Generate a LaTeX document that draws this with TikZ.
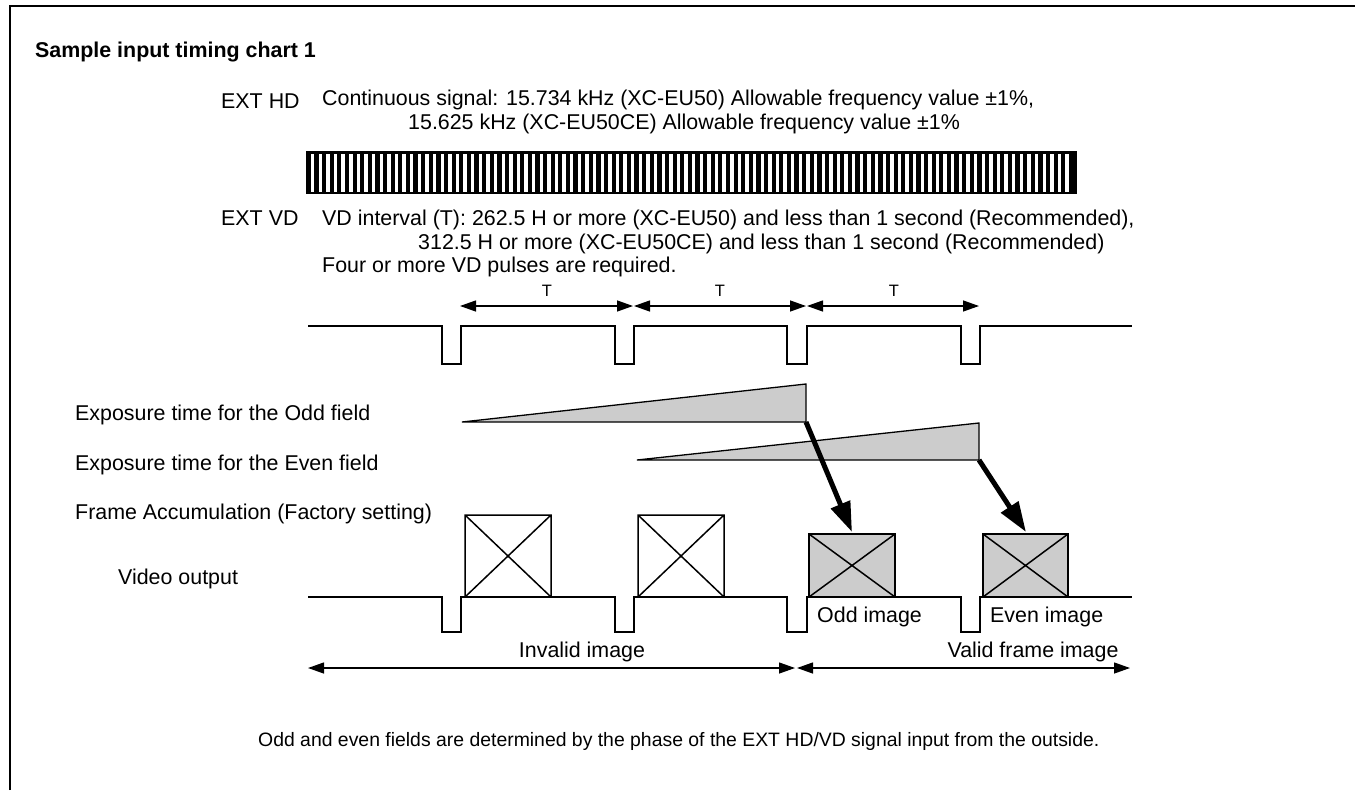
\documentclass[tikz,border=0pt]{standalone}
\usepackage{fontspec}
\setmainfont{Liberation Sans}
\usetikzlibrary{arrows.meta}
\definecolor{wedgegray}{gray}{0.8}
\begin{document}
\begin{tikzpicture}[x=1pt,y=-1pt,
  lbl/.style={anchor=base west, inner sep=0pt, font=\fontsize{21.4}{24}\selectfont},
  clbl/.style={anchor=base, inner sep=0pt, font=\fontsize{21.4}{24}\selectfont},
  tlbl/.style={anchor=center, inner sep=0pt, font=\fontsize{16.5}{18}\selectfont},
  sig/.style={line width=1.5pt, line join=miter},
  tarrow/.style={line width=1.3pt, {Triangle[length=16pt,width=11pt]}-{Triangle[length=16pt,width=11pt]}},
  bigarrow/.style={line width=5pt, -{Triangle[length=30pt,width=20pt]}},
  wedge/.style={draw, line width=1.3pt, fill=wedgegray, line join=miter},
  imgbox/.style={draw, line width=1.5pt},
  grayimg/.style={imgbox, fill=wedgegray}]
\useasboundingbox (0,0) rectangle (1355,790);
% frame
\draw[line width=1.5pt] (10,790) -- (10,6) -- (1355,6);
% title
\node[lbl, font=\bfseries\fontsize{21.4}{24}\selectfont] (title) at (35,57) {Sample input timing chart 1};
% EXT HD
\node[lbl] (exthd) at (221,108) {EXT HD};
\node[lbl] (hd1) at (322,105) {Continuous signal: 15.734 kHz (XC-EU50) Allowable frequency value ±1\%,};
\node[lbl] (hd2) at (408,129) {15.625 kHz (XC-EU50CE) Allowable frequency value ±1\%};
% HD bar
\fill[black] (306,151) rectangle (1077,194);
\foreach \i in {0,...,99} {
  \fill[white] ({311+\i*7.62},153.5) rectangle ({314.4+\i*7.62},191.5);
}
% EXT VD
\node[lbl] (extvd) at (221,225) {EXT VD};
\node[lbl] (vd1) at (322,225) {VD interval (T): 262.5 H or more (XC-EU50) and less than 1 second (Recommended),};
\node[lbl] (vd2) at (418,249) {312.5 H or more (XC-EU50CE) and less than 1 second (Recommended)};
\node[lbl] (vd3) at (322,272) {Four or more VD pulses are required.};
% T arrows
\coordinate (ta) at (460,306);
\coordinate (tb) at (633,306);
\coordinate (tc) at (634,306);
\coordinate (td) at (806,306);
\coordinate (te) at (807,306);
\coordinate (tf) at (979,306);
\draw[tarrow] (ta) -- (tb);
\draw[tarrow] (tc) -- (td);
\draw[tarrow] (te) -- (tf);
\node[tlbl] (t1) at (547,291) {T};
\node[tlbl] (t2) at (720,291) {T};
\node[tlbl] (t3) at (894,291) {T};
% VD signal
\draw[sig] (308,326) -| (442,364) -| (461,326) -| (615,364) -| (634,326) -| (787,364) -| (807,326) -| (961,364) -| (980,326) -- (1132,326);
% left labels
\node[lbl] (lodd) at (75,420) {Exposure time for the Odd field};
\node[lbl] (leven) at (75,470) {Exposure time for the Even field};
\node[lbl] (lframe) at (75,519) {Frame Accumulation (Factory setting)};
\node[lbl] (lvideo) at (118,584) {Video output};
% wedges
\coordinate (oddcorner) at (806,422);
\coordinate (evencorner) at (979,460);
\draw[wedge] (462,422) -- (806,384) -- (oddcorner) -- cycle;
\draw[wedge] (637,460) -- (979,423) -- (evencorner) -- cycle;
% image boxes
\draw[imgbox] (465,515) rectangle (551,597) (465,515) -- (551,597) (551,515) -- (465,597);
\draw[imgbox] (638,515) rectangle (724,597) (638,515) -- (724,597) (724,515) -- (638,597);
\draw[grayimg] (809,534) rectangle (895,597);
\draw[line width=1.5pt] (809,534) -- (895,597) (895,534) -- (809,597);
\draw[grayimg] (983,534) rectangle (1068,597);
\draw[line width=1.5pt] (983,534) -- (1068,597) (1068,534) -- (983,597);
\coordinate (oddimg) at (852,532);
\coordinate (evenimg) at (1026,532);
% thick arrows
\draw[bigarrow] (oddcorner) -- (oddimg);
\draw[bigarrow] (evencorner) -- (evenimg);
% video signal
\draw[sig] (308,597) -| (442,632) -| (461,597) -| (615,632) -| (634,597) -| (787,632) -| (807,597) -| (961,632) -| (980,597) -- (1132,597);
\node[lbl] (oddlbl) at (817,622) {Odd image};
\node[lbl] (evenlbl) at (990,622) {Even image};
% bottom arrows
\coordinate (ba) at (308,668);
\coordinate (bb) at (795,668);
\coordinate (bc) at (797,668);
\coordinate (bd) at (1130,668);
\draw[tarrow] (ba) -- (bb);
\draw[tarrow] (bc) -- (bd);
\node[clbl] (invalid) at (582,657) {Invalid image};
\node[clbl] (valid) at (1033,657) {Valid frame image};
% note
\node[lbl, font=\fontsize{19.4}{22}\selectfont] (note) at (258,746) {Odd and even fields are determined by the phase of the EXT HD/VD signal input from the outside.};
\end{tikzpicture}
\end{document}
